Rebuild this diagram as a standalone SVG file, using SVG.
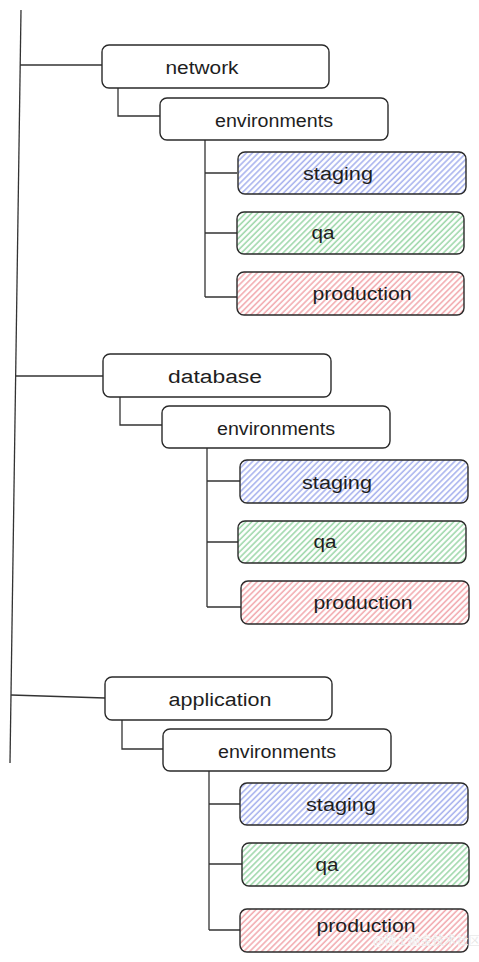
<svg xmlns="http://www.w3.org/2000/svg" width="479" height="962" viewBox="0 0 479 962">
<defs>
<pattern id="hb" width="4.2" height="4.2" patternUnits="userSpaceOnUse" patternTransform="rotate(-45)"><rect width="4.2" height="4.2" fill="#ffffff"/><line x1="0" y1="1" x2="4.2" y2="1" stroke="#a9b3ee" stroke-width="1.6"/></pattern>
<pattern id="hg" width="4.2" height="4.2" patternUnits="userSpaceOnUse" patternTransform="rotate(-45)"><rect width="4.2" height="4.2" fill="#ffffff"/><line x1="0" y1="1" x2="4.2" y2="1" stroke="#9fd8ab" stroke-width="1.6"/></pattern>
<pattern id="hr" width="4.2" height="4.2" patternUnits="userSpaceOnUse" patternTransform="rotate(-45)"><rect width="4.2" height="4.2" fill="#ffffff"/><line x1="0" y1="1" x2="4.2" y2="1" stroke="#f2abb0" stroke-width="1.6"/></pattern>
</defs>
<style>
.box{fill:#ffffff;stroke:#2a2a2a;stroke-width:1.4}
.b{fill:url(#hb);stroke:#2a2a2a;stroke-width:1.4}
.g{fill:url(#hg);stroke:#2a2a2a;stroke-width:1.4}
.r{fill:url(#hr);stroke:#2a2a2a;stroke-width:1.4}
.t{font-family:"Liberation Sans",Arial,sans-serif;font-size:18px;fill:#1e1e1e;text-anchor:middle}
.c{fill:none;stroke:#333333;stroke-width:1.3}
.wm{font-family:"Noto Sans CJK SC",sans-serif;font-size:12px;fill:#c8c8c8;fill-opacity:0.8;stroke:#ffffff;stroke-width:0.4}
</style>
<rect width="479" height="962" fill="#ffffff"/>
<g id="connectors">
<path class="c" d="M21 10 L10 763"/>
<path class="c" d="M20 65 L102 65"/>
<path class="c" d="M118 88 L118 116 L160 116"/>
<path class="c" d="M205 140 L205 297 M205 173 L237 173 M205 233 L237 233 M205 297 L237 297"/>
<path class="c" d="M16 376 L103 376"/>
<path class="c" d="M120 397 L120 425 L162 425"/>
<path class="c" d="M207 448 L207 607 M207 481 L240 481 M207 542 L238 542 M207 607 L241 607"/>
<path class="c" d="M11 695 L105 698"/>
<path class="c" d="M122 720 L122 749 L163 749"/>
<path class="c" d="M209 771 L209 930 M209 804 L240 804 M209 864 L242 864 M209 930 L240 930"/>
</g>
<g id="network"><rect class="box" x="102" y="45" width="227" height="43" rx="7"/><text class="t" x="202" y="74" textLength="73" lengthAdjust="spacingAndGlyphs">network</text></g>
<g id="network-environments"><rect class="box" x="160" y="98" width="228" height="42" rx="7"/><text class="t" x="274" y="127" textLength="118" lengthAdjust="spacingAndGlyphs">environments</text></g>
<g id="network-staging"><rect class="b" x="238" y="152" width="228" height="42" rx="7"/><text class="t" x="338" y="180" textLength="70" lengthAdjust="spacingAndGlyphs">staging</text></g>
<g id="network-qa"><rect class="g" x="237" y="212" width="227" height="42" rx="7"/><text class="t" x="323" y="239" textLength="23" lengthAdjust="spacingAndGlyphs">qa</text></g>
<g id="network-production"><rect class="r" x="237" y="272" width="227" height="43" rx="7"/><text class="t" x="362" y="300" textLength="99" lengthAdjust="spacingAndGlyphs">production</text></g>
<g id="database"><rect class="box" x="103" y="354" width="228" height="43" rx="7"/><text class="t" x="215" y="383" textLength="94" lengthAdjust="spacingAndGlyphs">database</text></g>
<g id="database-environments"><rect class="box" x="162" y="406" width="228" height="42" rx="7"/><text class="t" x="276" y="435" textLength="118" lengthAdjust="spacingAndGlyphs">environments</text></g>
<g id="database-staging"><rect class="b" x="240" y="460" width="228" height="43" rx="7"/><text class="t" x="337" y="489" textLength="70" lengthAdjust="spacingAndGlyphs">staging</text></g>
<g id="database-qa"><rect class="g" x="238" y="521" width="228" height="42" rx="7"/><text class="t" x="325" y="548" textLength="23" lengthAdjust="spacingAndGlyphs">qa</text></g>
<g id="database-production"><rect class="r" x="241" y="581" width="228" height="43" rx="7"/><text class="t" x="363" y="609" textLength="99" lengthAdjust="spacingAndGlyphs">production</text></g>
<g id="application"><rect class="box" x="105" y="677" width="227" height="43" rx="7"/><text class="t" x="220" y="706" textLength="103" lengthAdjust="spacingAndGlyphs">application</text></g>
<g id="application-environments"><rect class="box" x="163" y="729" width="228" height="42" rx="7"/><text class="t" x="277" y="758" textLength="118" lengthAdjust="spacingAndGlyphs">environments</text></g>
<g id="application-staging"><rect class="b" x="240" y="783" width="228" height="42" rx="7"/><text class="t" x="341" y="811" textLength="70" lengthAdjust="spacingAndGlyphs">staging</text></g>
<g id="application-qa"><rect class="g" x="242" y="843" width="227" height="43" rx="7"/><text class="t" x="327" y="871" textLength="23" lengthAdjust="spacingAndGlyphs">qa</text></g>
<g id="application-production"><rect class="r" x="240" y="909" width="228" height="43" rx="7"/><text class="t" x="366" y="932" textLength="99" lengthAdjust="spacingAndGlyphs">production</text></g>
<text class="wm" x="373" y="945">@稀土掘金技术社区</text>
</svg>
